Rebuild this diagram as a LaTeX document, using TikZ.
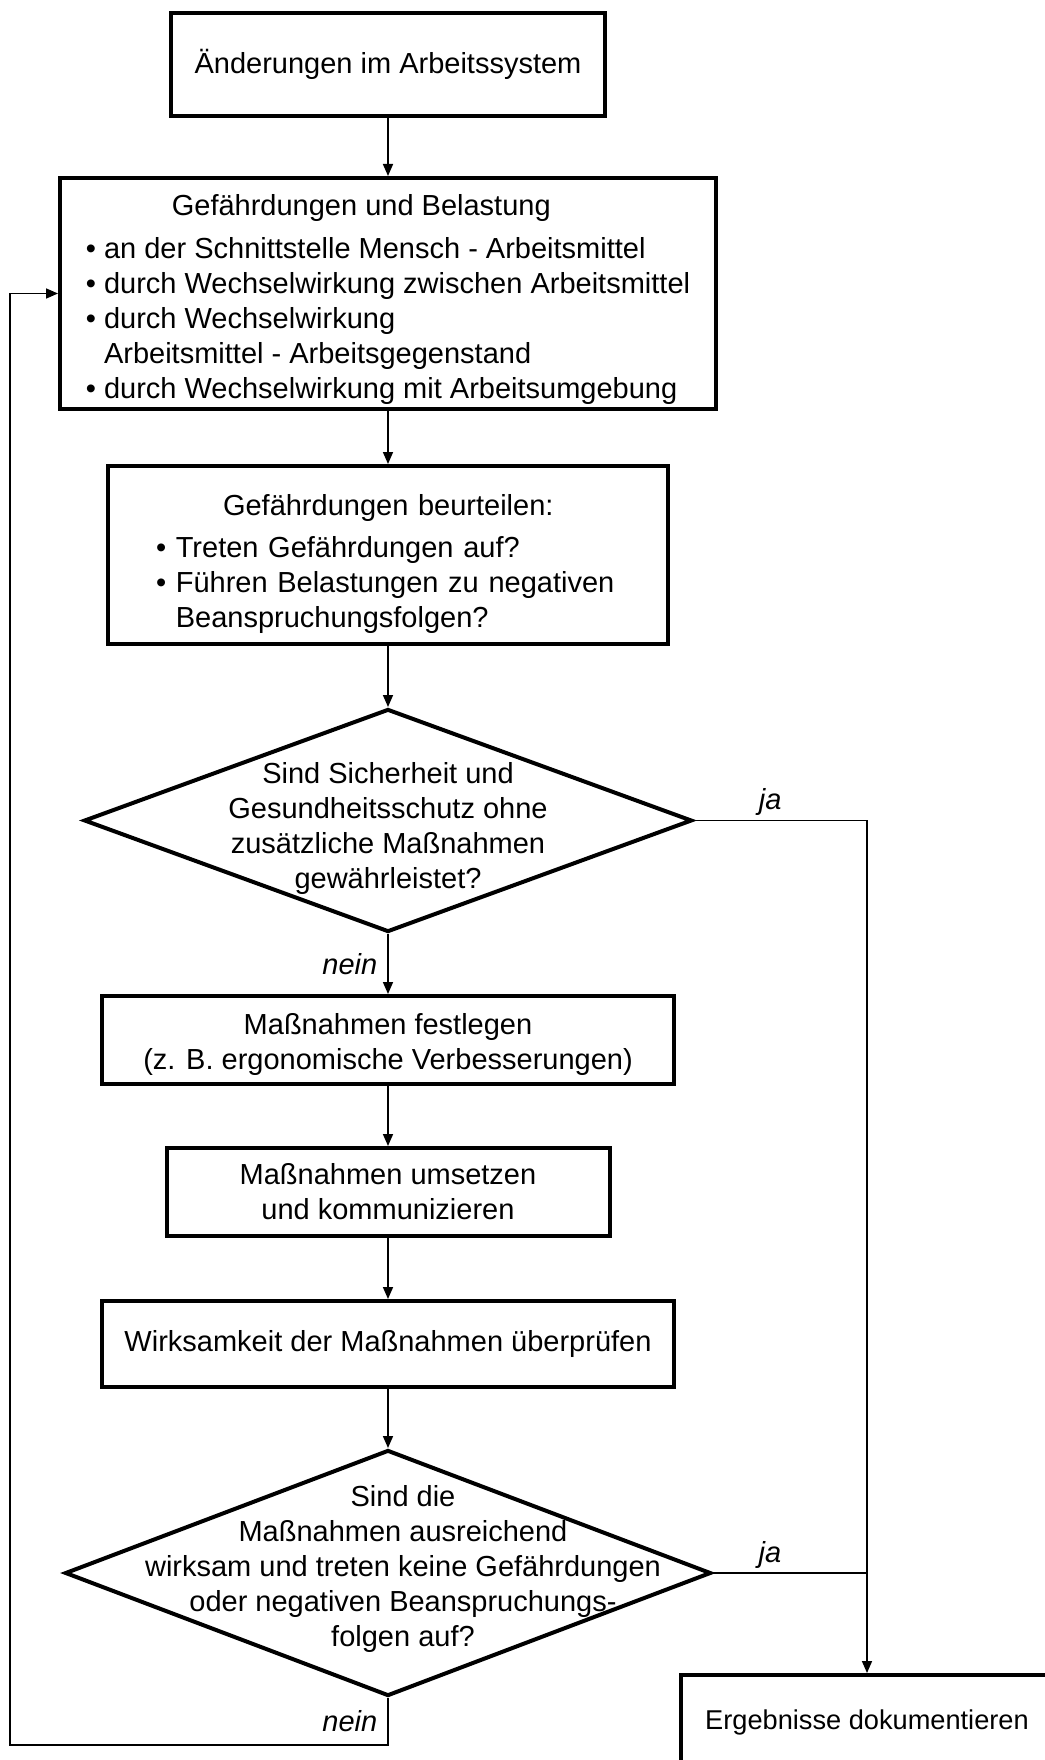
\documentclass[tikz,border=0pt]{standalone}
\usepackage{fontspec}
\setmainfont{Liberation Sans}
\usetikzlibrary{positioning,shapes.geometric,arrows.meta}

\tikzstyle{box} = [draw, line width=2pt, align=center, inner sep=0pt, font=\fontsize{14.5pt}{17.5pt}\selectfont]
\tikzstyle{dia} = [draw, diamond, line width=2pt, inner sep=0pt]
\tikzstyle{txt} = [align=center, inner sep=0pt, font=\fontsize{14.5pt}{17.5pt}\selectfont]
\tikzstyle{arr} = [line width=0.8pt, -{Triangle[length=6pt,width=5pt]}]
\tikzstyle{con} = [line width=0.8pt]
\tikzstyle{lbl} = [inner sep=2pt, font=\fontsize{14.5pt}{17.5pt}\selectfont\itshape]

\begin{document}
\begin{tikzpicture}
\useasboundingbox (0,0) rectangle (522pt,-880pt);

% main column
\node[box, minimum width=217pt, minimum height=51.5pt] (start) at (194pt,-32.25pt)
	{Änderungen im Arbeitssystem};
\node[box, align=left, minimum width=328pt, minimum height=115.5pt, below=29pt of start] (belast)
	{\rule{0pt}{17pt}\hspace*{43pt}Gefährdungen und Belastung\\[4pt]
	• an der Schnittstelle Mensch - Arbeitsmittel\\
	• durch Wechselwirkung zwischen Arbeitsmittel\\
	• durch Wechselwirkung\\
	\hphantom{• }Arbeitsmittel - Arbeitsgegenstand\\
	• durch Wechselwirkung mit Arbeitsumgebung};
\node[box, align=left, text width=232pt, minimum width=280pt, minimum height=89pt, below=26.5pt of belast] (beurt)
	{\rule{0pt}{19.5pt}\hspace*{33.5pt}Gefährdungen beurteilen:\\[3.5pt]
	• Treten Gefährdungen auf?\\
	• Führen Belastungen zu negativen\\
	\hphantom{• }Beanspruchungsfolgen?};
\node[dia, minimum width=304pt, minimum height=111.5pt, below=30.5pt of beurt] (q1) {};
\node[txt, yshift=-4.2pt] (q1txt) at (q1)
	{Sind Sicherheit und\\ Gesundheitsschutz ohne\\ zusätzliche Maßnahmen\\ gewährleistet?};
\node[box, minimum width=286pt, minimum height=44pt, below=30pt of q1] (fest)
	{\rule{0pt}{14.5pt}Maßnahmen festlegen\\ (z. B. ergonomische Verbesserungen)};
\node[box, minimum width=221.5pt, minimum height=44pt, below=30pt of fest] (umsetz)
	{Maßnahmen umsetzen\\ und kommunizieren};
\node[box, minimum width=286pt, minimum height=43pt, below=30.5pt of umsetz] (pruef)
	{Wirksamkeit der Maßnahmen überprüfen};
\node[dia, minimum width=323pt, minimum height=123pt, below=29.5pt of pruef] (q2) {};
\node[txt, xshift=7.5pt, yshift=2.2pt] (q2txt) at (q2)
	{Sind die\\ Maßnahmen ausreichend\\ wirksam und treten keine Gefährdungen\\ oder negativen Beanspruchungs-\\ folgen auf?};

% end
\node[box, font=\fontsize{13.6pt}{16pt}\selectfont, minimum width=186pt, minimum height=47pt] (doku) at (433.5pt,-861pt)
	{Ergebnisse dokumentieren};
\coordinate (back) at (5pt,-872.5pt);

% connectors
\draw[arr] (start) -- (belast);
\draw[arr] (belast) -- (beurt);
\draw[arr] (beurt) -- (q1);
\draw[arr] (q1) -- node[lbl, left=3pt] {nein} (fest);
\draw[arr] (fest) -- (umsetz);
\draw[arr] (umsetz) -- (pruef);
\draw[arr] (pruef) -- (q2);
\draw[arr] (q1.east) -| node[lbl, above, pos=0.22] {ja} (doku.north);
\draw[con] (q2.east) -- node[lbl, above, pos=0.37] {ja} (q2.east -| doku.north);
\draw[arr] (q2.south) |- node[lbl, left=3pt, pos=0.25] {nein} (back) |- (belast.west);
\end{tikzpicture}
\end{document}
